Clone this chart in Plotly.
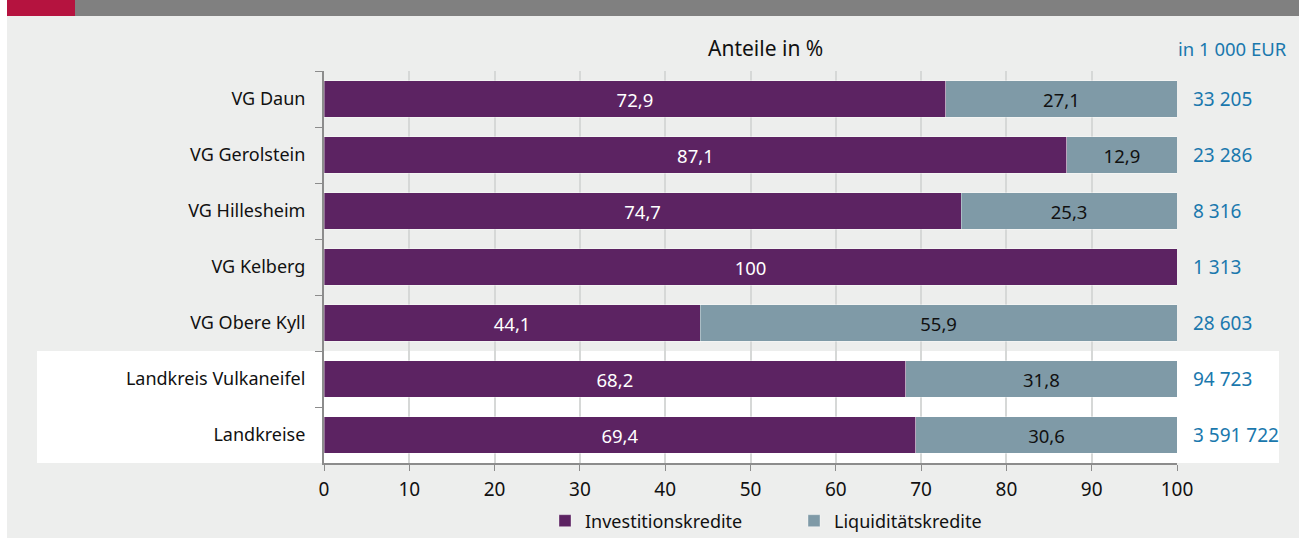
import plotly.graph_objects as go

categories = ["VG Daun", "VG Gerolstein", "VG Hillesheim", "VG Kelberg",
              "VG Obere Kyll", "Landkreis Vulkaneifel", "Landkreise"]
invest = [72.9, 87.1, 74.7, 100, 44.1, 68.2, 69.4]
liquid = [27.1, 12.9, 25.3, 0, 55.9, 31.8, 30.6]
totals = ["33 205", "23 286", "8 316", "1 313", "28 603", "94 723", "3 591 722"]
x_ticks = [0, 10, 20, 30, 40, 50, 60, 70, 80, 90, 100]

W, H = 1299, 538
L, R, T, B = 324, 122, 71, 75
PW, PH = W - L - R, H - T - B


def px(x):
    return (x - L) / PW


def py(y):
    return (H - B - y) / PH


def fmt(v):
    if v == 0:
        return ""
    s = ("%.1f" % v).replace(".", ",")
    if s.endswith(",0"):
        s = s[:-2]
    return s


FONT = "Noto Sans"
PURPLE = "#5c2362"
GREY = "#7f9aa7"
BLUE = "#1a78ad"
TXT = "#111111"

fig = go.Figure()
fig.add_trace(go.Bar(
    y=categories, x=invest, orientation="h", name="Investitionskredite",
    marker=dict(color=PURPLE, line=dict(color="rgba(255,255,255,0.35)", width=1)),
    text=[fmt(v) for v in invest], textposition="inside", insidetextanchor="middle",
    textfont=dict(color="white", size=18.5, family=FONT), width=0.66,
))
fig.add_trace(go.Bar(
    y=categories, x=liquid, orientation="h", name="Liquiditätskredite",
    marker=dict(color=GREY, line=dict(color="rgba(255,255,255,0.35)", width=1)),
    text=[fmt(v) for v in liquid], textposition="inside", insidetextanchor="middle",
    textfont=dict(color=TXT, size=18.5, family=FONT), width=0.66,
))

shapes = [
    dict(type="rect", xref="paper", yref="paper", x0=px(7), x1=px(W), y0=py(H), y1=py(16),
         fillcolor="#edeeed", line=dict(width=0), layer="below"),
    dict(type="rect", xref="paper", yref="paper", x0=px(7), x1=px(75), y0=py(16), y1=py(0),
         fillcolor="#b5133f", line=dict(width=0), layer="below"),
    dict(type="rect", xref="paper", yref="paper", x0=px(75), x1=px(W), y0=py(16), y1=py(0),
         fillcolor="#808080", line=dict(width=0), layer="below"),
    dict(type="rect", xref="paper", yref="paper", x0=px(37), x1=px(1279), y0=py(463), y1=py(351),
         fillcolor="white", line=dict(width=0), layer="below"),
]

annotations = [
    dict(text="Anteile in %", xref="paper", yref="paper", x=px(765), y=py(48),
         xanchor="center", yanchor="middle", showarrow=False,
         font=dict(size=21, color=TXT, family=FONT)),
    dict(text="in 1 000 EUR", xref="paper", yref="paper", x=px(1176), y=py(48),
         xanchor="left", yanchor="middle", showarrow=False,
         font=dict(size=18.5, color=BLUE, family=FONT)),
]
for c, t in zip(categories, totals):
    annotations.append(dict(text=t, xref="paper", yref="y", x=px(1191), y=c,
                            xanchor="left", yanchor="middle", showarrow=False,
                            font=dict(size=19, color=BLUE, family=FONT)))

fig.update_layout(
    width=W, height=H, barmode="stack",
    margin=dict(l=L, r=R, t=T, b=B, pad=0, autoexpand=False),
    paper_bgcolor="white", plot_bgcolor="rgba(0,0,0,0)",
    font=dict(family=FONT, size=18, color=TXT),
    shapes=shapes, annotations=annotations,
    separators=", ",
    showlegend=True,
    legend=dict(orientation="h", x=px(794), xanchor="center", y=py(521), yanchor="middle",
                font=dict(size=18, family=FONT, color=TXT),
                bgcolor="rgba(0,0,0,0)", entrywidth=204, traceorder="normal"),
    xaxis=dict(range=[0, 100], tickvals=x_ticks, ticks="outside", ticklen=6,
               tickcolor="#8c8c8c", showline=True, linecolor="#8c8c8c", linewidth=2,
               showgrid=True, gridcolor="#d6d8d7", gridwidth=2, zeroline=False,
               tickfont=dict(size=19), automargin=False, ticklabelstandoff=2),
    yaxis=dict(autorange="reversed", ticks="outside", ticklen=7, tickson="boundaries",
               tickcolor="#8c8c8c", showline=True, linecolor="#8c8c8c", linewidth=2,
               showgrid=False, ticklabelstandoff=13, tickfont=dict(size=18), automargin=False),
)

fig.write_html("out.html", config={"displayModeBar": False},
               post_script="document.body.style.margin='0';document.body.style.overflow='hidden';")
